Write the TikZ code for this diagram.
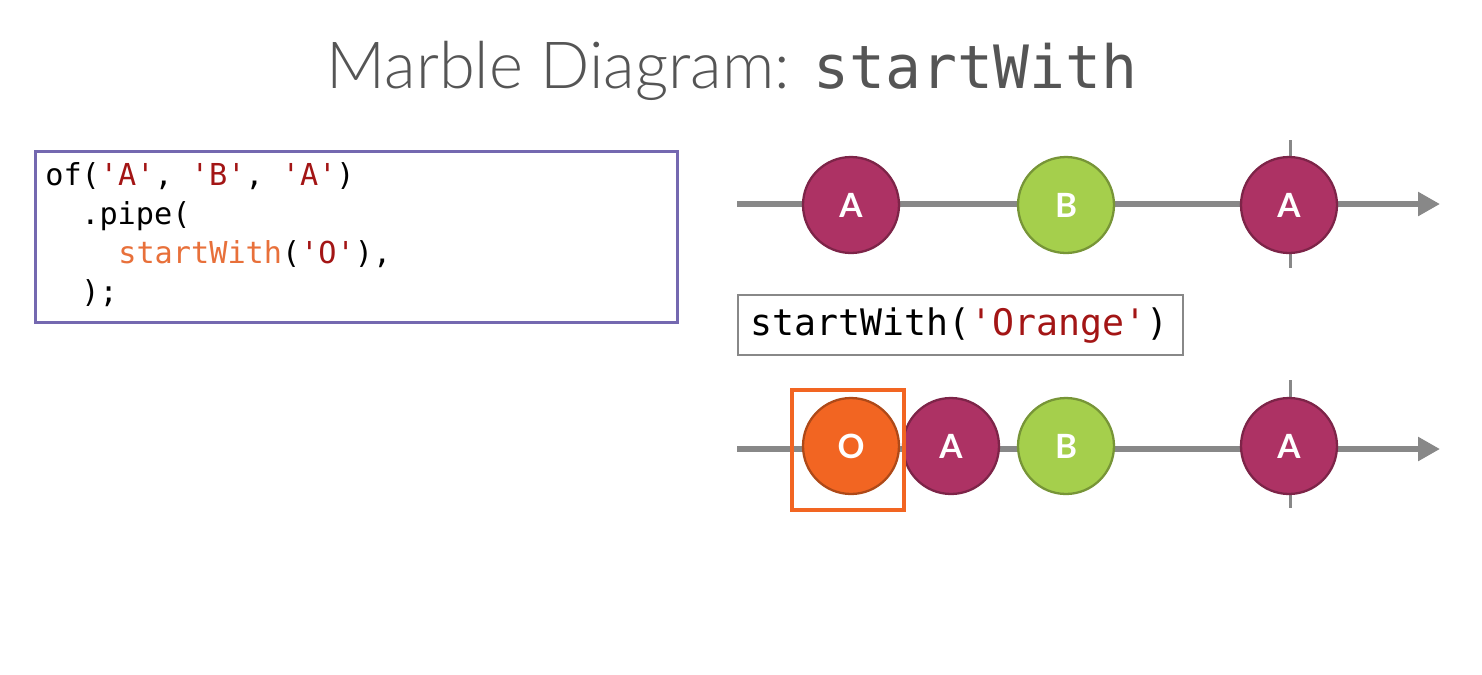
\documentclass[tikz,border=0pt]{standalone}
\usepackage{fontspec}
\setsansfont{Lato}
\setmonofont{DejaVu Sans Mono}
\newfontfamily\titlefont{Lato Light}
\usetikzlibrary{arrows.meta}
\definecolor{titlegray}{HTML}{555555}
\definecolor{axisgray}{HTML}{888888}
\definecolor{boxpurple}{HTML}{7468B0}
\definecolor{strred}{HTML}{A31515}
\definecolor{fnorange}{HTML}{E8703A}
\definecolor{marbA}{HTML}{AD3264}
\definecolor{marbB}{HTML}{A5CF4C}
\definecolor{marbO}{HTML}{F26522}
\tikzset{
	marble/.style={circle, draw=#1!72!black, line width=1.3pt, fill=#1, inner sep=0pt,
		minimum size=1.92cm, text=white, font=\sffamily\bfseries\fontsize{19}{19}\selectfont},
	axis/.style={axisgray, line width=3.6pt, -{Triangle[length=0.44cm, width=0.46cm]}},
	tick/.style={axisgray, line width=1.7pt},
	codeline/.style={anchor=base west, inner sep=0pt, font=\ttfamily\fontsize{17.2}{17.2}\selectfont}
}
\begin{document}
\begin{tikzpicture}[x=0.02cm, y=-0.02cm]
		\useasboundingbox[fill=white] (0,0) rectangle (1482,674);
		%title
		\node (title) at (732, 88) [anchor=base, inner sep=0pt, text=titlegray,
			font=\titlefont\fontsize{37}{37}\selectfont]
			{Marble Diagram: {\ttfamily\fontsize{34}{34}\selectfont startWith}};
		
		%code box
		\node (codebox) at (34, 150) [draw=boxpurple, line width=1.7pt, anchor=north west,
			minimum width=12.84cm, minimum height=3.42cm]{};
		\node (code1) at (45, 185) [codeline]{of(\textcolor{strred}{'A'}, \textcolor{strred}{'B'}, \textcolor{strred}{'A'})};
		\node (code2) at (81, 224) [codeline]{.pipe(};
		\node (code3) at (118, 263) [codeline]{\textcolor{fnorange}{startWith}(\textcolor{strred}{'O'}),};
		\node (code4) at (81, 302) [codeline]{);};
		
		%source stream
		\coordinate (src start) at (737, 204);
		\coordinate (src end) at (1440, 204);
		\coordinate (src tick top) at (1290, 140);
		\coordinate (src tick bot) at (1290, 268);
		\draw[axis] (src start) -- (src end);
		\draw[tick] (src tick top) -- (src tick bot);
		\foreach \x/\lbl/\col/\nm in {851/A/marbA/srcA1, 1066/B/marbB/srcB, 1289/A/marbA/srcA2}{
			\node (\nm) at (\x, 205) [marble=\col]{\lbl};
		}
		
		%operator
		\node (op) at (737, 294) [draw=axisgray, line width=1.1pt, anchor=north west,
			minimum width=8.9cm, minimum height=1.2cm, inner sep=0pt]{};
		\node (optext) at (750, 335) [codeline, font=\ttfamily\fontsize{20.8}{20.8}\selectfont]
			{startWith(\textcolor{strred}{'Orange'})};
		
		%result stream
		\coordinate (res start) at (737, 449);
		\coordinate (res end) at (1440, 449);
		\coordinate (res tick top) at (1290, 380);
		\coordinate (res tick bot) at (1290, 508);
		\draw[axis] (res start) -- (res end);
		\draw[tick] (res tick top) -- (res tick bot);
		\foreach \x/\lbl/\col/\nm in {851/O/marbO/resO, 951/A/marbA/resA1, 1066/B/marbB/resB, 1289/A/marbA/resA2}{
			\node (\nm) at (\x, 446) [marble=\col]{\lbl};
		}
		\node (hilite) at (790, 388) [draw=marbO, line width=2.3pt, anchor=north west,
			minimum width=2.24cm, minimum height=2.4cm]{};
\end{tikzpicture}
\end{document}
